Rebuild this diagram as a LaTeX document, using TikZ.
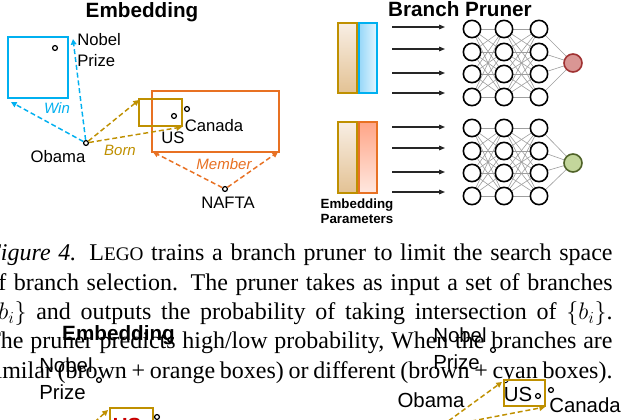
\RequirePackage{fix-cm}
\documentclass[tikz,border=0pt]{standalone}
\usepackage{fontspec}
\setmainfont{Liberation Serif}
\newfontfamily\arial{Liberation Sans}
\usetikzlibrary{arrows.meta,backgrounds}
\pgfdeclarelayer{paper}
\pgfsetlayers{paper,background,main}
\definecolor{cyanb}{RGB}{0,176,240}
\definecolor{brownb}{RGB}{191,144,0}
\definecolor{orangeb}{RGB}{232,113,35}
\definecolor{redfill}{RGB}{217,150,148}
\definecolor{redline}{RGB}{160,50,50}
\definecolor{greenfill}{RGB}{195,214,155}
\definecolor{greenline}{RGB}{79,98,40}
\definecolor{dred}{RGB}{200,0,0}
\tikzset{
 lbl/.style={font={\arial\fontsize{12.5}{15.75}\selectfont}, inner sep=0},
 blbl/.style={font={\arial\fontsize{15.3}{20.25}\selectfont}, inner sep=0},
 ttl/.style={font={\arial\bfseries\fontsize{15.5}{18}\selectfont}, inner sep=0},
 rel/.style={font={\arial\itshape\fontsize{11.25}{13}\selectfont}, inner sep=0},
 dotnode/.style={circle, draw=black, fill=white, line width=0.95pt, inner sep=0, minimum size=3.6pt},
 darr/.style={dash pattern=on 3.7pt off 2.2pt, line width=1.1pt, -{Triangle[length=4.2pt,width=4.2pt]}},
 boxline/.style={line width=1.5pt},
 neuron/.style={circle, draw=black, fill=white, line width=1.2pt, minimum size=13pt, inner sep=0},
 syn/.style={draw=black!38, line width=0.45pt},
 inarr/.style={draw=black!85, line width=0.8pt, -{Triangle[length=4.5pt,width=3.5pt]}},
 captline/.style={anchor=base west, inner sep=0, font={\fontsize{18}{22}\selectfont}},
}
\begin{document}
\begin{tikzpicture}[x=0.75pt,y=-0.75pt]
\begin{pgfonlayer}{paper}
\fill[white] (0,0) rectangle (621,420);
\end{pgfonlayer}
\useasboundingbox (0,0) rectangle (621,420);

% ---------------- caption text ----------------
\node[captline] (c1) at (-14,261) {\hbox to 469.7pt{\textit{Figure 4.} L{\fontsize{14.4}{22}\selectfont EGO} trains a branch pruner to limit the search space}};
\node[captline] (c2) at (-14,290.3) {\hbox to 469.7pt{of branch selection. The pruner takes as input a set of branches}};
\node[captline] (c3) at (-14,319.6) {\hbox to 469.7pt{$\{b_i\}$ and outputs the probability of taking intersection of $\{b_i\}$.}};
\node[captline] (c4) at (-14,349) {\hbox to 469.7pt{The pruner predicts high/low probability, When the branches are}};
\node[captline] (c5) at (-14,378.3) {\hbox to 469.7pt{similar (brown + orange boxes) or different (brown + cyan boxes).}};

% ---------------- top-left embedding ----------------
\node[ttl] (t1) at (142,12) {Embedding};
\draw[cyanb, boxline] (8,37) rectangle (68,98);
\draw[orangeb, boxline] (152,91) rectangle (279,152);
\draw[brownb, boxline] (139,99) rectangle (182,126);

\node[dotnode] (np) at (55,48) {};
\node[lbl, anchor=west, align=left] (nptxt) at (77,50) {Nobel\\Prize};
\node[dotnode] (ob) at (86,143) {};
\node[lbl] (obtxt) at (58,157) {Obama};
\node[dotnode] (us) at (174,116) {};
\node[lbl] (ustxt) at (173,138) {US};
\node[dotnode] (ca) at (187,109) {};
\node[lbl] (catxt) at (214,126) {Canada};
\node[dotnode] (na) at (225,189) {};
\node[lbl] (natxt) at (228,203) {NAFTA};

\node[rel, text=cyanb] (win) at (57,108) {Win};
\node[rel, text=brownb] (born) at (120,150) {Born};
\node[rel, text=orangeb] (mem) at (224,164) {Member};

\coordinate (cw1) at (11,102);
\coordinate (cw2) at (73,39);
\coordinate (bw1) at (139,100);
\coordinate (bw2) at (182,127);
\coordinate (ow1) at (153,152);
\coordinate (ow2) at (278,152);
\draw[darr, cyanb] (ob) -- (cw1);
\draw[darr, cyanb] (ob) -- (cw2);
\draw[darr, brownb] (ob) -- (bw1);
\draw[darr, brownb] (ob) -- (bw2);
\draw[darr, orangeb] (na) -- (ow1);
\draw[darr, orangeb] (na) -- (ow2);

% ---------------- top-right branch pruner ----------------
\node[ttl] (t2) at (460,9) {Branch Pruner};
\shade[top color={rgb,255:red,248;green,238;blue,228}, bottom color={rgb,255:red,227;green,194;blue,148}] (338,23) rectangle (357,93);
\draw[brownb, line width=1.3pt] (338,23) rectangle (357,93);
\shade[left color={rgb,255:red,150;green,215;blue,248}, right color={rgb,255:red,228;green,246;blue,255}] (359,23) rectangle (377,93);
\draw[cyanb, line width=1.3pt] (359,23) rectangle (377,93);
\shade[top color={rgb,255:red,248;green,238;blue,228}, bottom color={rgb,255:red,227;green,194;blue,148}] (338,122) rectangle (357,193);
\draw[brownb, line width=1.3pt] (338,122) rectangle (357,193);
\shade[top color={rgb,255:red,255;green,165;blue,135}, bottom color={rgb,255:red,255;green,232;blue,224}] (359,122) rectangle (377,193);
\draw[orangeb, line width=1.3pt] (359,122) rectangle (377,193);

\foreach \i/\y in {1/27,2/49,3/73,4/93,5/127,6/148,7/172,8/192} {
  \coordinate (is\i) at (392,\y);
  \coordinate (ie\i) at (445,\y);
  \draw[inarr] (is\i) -- (ie\i);
}

\foreach \c/\x in {1/472,2/504,3/539} {
  \foreach \r/\y in {1/29,2/52,3/74,4/97} { \node[neuron] (a\c\r) at (\x,\y) {}; }
  \foreach \r/\y in {1/128,2/151,3/173,4/196} { \node[neuron] (b\c\r) at (\x,\y) {}; }
}
\node[neuron, fill=redfill, draw=redline, minimum size=13.5pt] (outa) at (573,63) {};
\node[neuron, fill=greenfill, draw=greenline, minimum size=13.5pt] (outb) at (573,163) {};
\begin{pgfonlayer}{background}
\foreach \g in {a,b} {
  \foreach \i in {1,...,4} {
    \foreach \j in {1,...,4} {
      \draw[syn] (\g1\i.center) -- (\g2\j.center);
      \draw[syn] (\g2\i.center) -- (\g3\j.center);
    }
  }
}
\foreach \i in {1,...,4} {
  \draw[syn] (a3\i.center) -- (outa.center);
  \draw[syn] (b3\i.center) -- (outb.center);
}
\end{pgfonlayer}

\node[font={\arial\bfseries\fontsize{10}{11.25}\selectfont}, align=center, inner sep=0] (ep) at (357,211.5) {Embedding\\Parameters};

% ---------------- bottom (overlapping) copy ----------------
\node[ttl] (t3) at (118.5,335) {Embedding};
\node[blbl, anchor=west, align=left] (np2txt) at (39,378.5) {Nobel\\Prize};
\node[dotnode] (np2) at (99,380) {};
\draw[brownb, boxline] (110,408) rectangle (153,445);
\node[font={\arial\bfseries\fontsize{15.3}{18}\selectfont}, text=dred, anchor=base, inner sep=0] (us2txt) at (127,432) {US};
\node[dotnode] (ca2) at (157,417) {};
\coordinate (bs2) at (77,438);
\coordinate (bt2) at (108,410);
\draw[darr, brownb] (bs2) -- (bt2);

\node[blbl, anchor=west, align=left] (np3txt) at (433,349) {Nobel\\Prize};
\node[dotnode] (np3) at (493,350) {};
\node[blbl] (ob3txt) at (431,400) {Obama};
\draw[brownb, boxline] (504,380) rectangle (545,406);
\node[blbl] (us3txt) at (518,394) {US};
\node[dotnode] (us3) at (538,396) {};
\node[dotnode] (ca3) at (551,390) {};
\node[blbl] (ca3txt) at (585,405) {Canada};
\coordinate (bs3) at (436,430);
\coordinate (bt3) at (502,382);
\coordinate (bs4) at (425,430);
\coordinate (bt4) at (545,407);
\draw[darr, brownb] (bs3) -- (bt3);
\draw[darr, brownb] (bs4) -- (bt4);
\end{tikzpicture}
\end{document}
